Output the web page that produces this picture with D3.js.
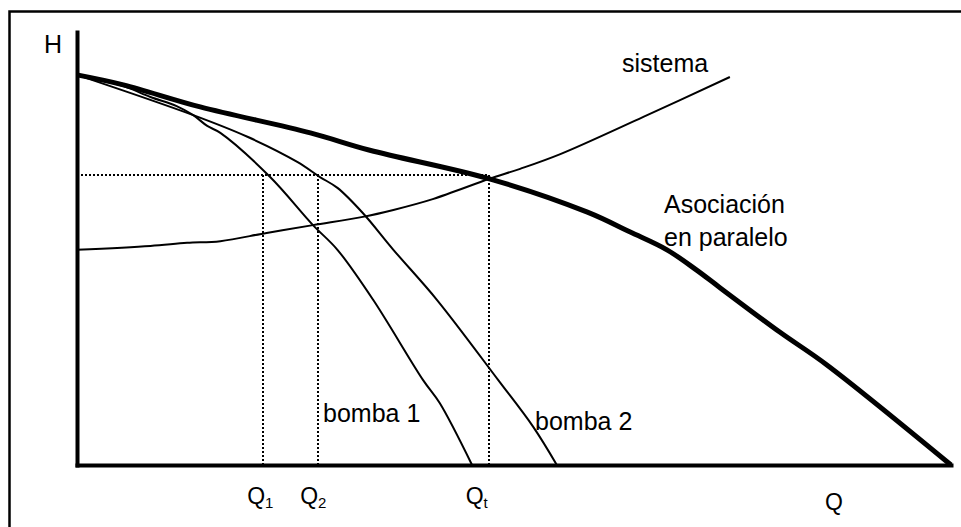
<!DOCTYPE html>
<html>
<head>
<meta charset="utf-8">
<script src="https://cdn.jsdelivr.net/npm/d3@7"></script>
<style>
  body { margin: 0; background: #fff; }
  svg { display: block; font-family: "Liberation Sans", Arial, sans-serif; }
</style>
</head>
<body>
<svg width="961" height="527"></svg>
<script>
// curve points, Q in % of axis, H in % of axis
const paraleloQ = [0, 5.3, 14.1, 26.7, 33.5, 47.2, 58.4, 63.3, 67.5, 70.9, 73.6, 80.4, 85.8, 100];
const paraleloH = [90.1, 87.8, 82.7, 76.7, 72.7, 66.1, 58.4, 53.8, 49.7, 45.0, 40.9, 30.7, 23.1, 0];

const sistemaQ = [0, 8.4, 12.6, 16.4, 21.7, 27.0, 32.7, 36.2, 40.7, 47.2, 50.7, 55.3, 64.8, 74.7];
const sistemaH = [49.7, 50.6, 51.3, 51.7, 53.6, 55.4, 57.3, 58.9, 61.4, 66.1, 68.4, 71.8, 80.4, 89.6];

const bomba1Q = [0, 5.3, 8.4, 11.4, 13.3, 14.9, 16.4, 22.1, 27.0, 29.8, 33.9, 39.6, 41.5, 45.2];
const bomba1H = [90.1, 87.5, 85.0, 82.9, 80.8, 78.3, 76.7, 66.5, 55.4, 49.7, 38.1, 19.6, 14.3, 0];

const bomba2Q = [0, 13.3, 19.5, 25.2, 27.8, 29.8, 32.7, 36.2, 41.2, 48.2, 52.2, 54.9];
const bomba2H = [90.1, 80.8, 75.8, 70.0, 66.5, 64.0, 58.2, 49.7, 38.1, 19.6, 8.8, 0];

// operating points
const opQ = [21.3, 27.6, 47.1];
const opH = 67.0;
const opLabels = ['1', '2', 't'];

const svg = d3.select('svg');

// frame
svg.append('path')
  .attr('d', 'M9.5,527V11.5H961')
  .attr('fill', 'none')
  .attr('stroke', '#000')
  .attr('stroke-width', 2.5);

const x = d3.scaleLinear().domain([0, 100]).range([77, 951]);
const y = d3.scaleLinear().domain([0, 100]).range([465, 32]);

const zip = (qs, hs) => qs.map((q, i) => [q, hs[i]]);
const line = d3.line()
  .x(d => x(d[0]))
  .y(d => y(d[1]))
  .curve(d3.curveCatmullRom.alpha(0.5));

// dotted guides, snapped to whole pixels so the dots stay crisp
const guides = svg.append('g')
  .attr('fill', 'none')
  .attr('stroke', '#000')
  .attr('stroke-width', 2)
  .attr('stroke-dasharray', '2,2');
guides.append('line')
  .attr('x1', x(0)).attr('x2', Math.round(x(opQ[2])))
  .attr('y1', Math.round(y(opH))).attr('y2', Math.round(y(opH)));
guides.selectAll('.v')
  .data(opQ)
  .enter().append('line')
  .attr('class', 'v')
  .attr('x1', d => Math.round(x(d))).attr('x2', d => Math.round(x(d)))
  .attr('y1', Math.round(y(opH))).attr('y2', y(0));

// curves
const curves = [
  { pts: zip(bomba1Q, bomba1H), w: 2 },
  { pts: zip(bomba2Q, bomba2H), w: 2 },
  { pts: zip(sistemaQ, sistemaH), w: 2 },
  { pts: zip(paraleloQ, paraleloH), w: 5 }
];
svg.append('g').selectAll('path')
  .data(curves)
  .enter().append('path')
  .attr('d', d => line(d.pts))
  .attr('fill', 'none')
  .attr('stroke', '#000')
  .attr('stroke-width', d => d.w)
  .attr('stroke-linejoin', 'round');

// axes
const xAxis = svg.append('g')
  .attr('transform', `translate(0,${y(0)})`)
  .call(d3.axisBottom(x).tickValues([]).tickSizeOuter(0));
const yAxis = svg.append('g')
  .attr('transform', `translate(${x(0)},0)`)
  .call(d3.axisLeft(y).tickValues([]).tickSizeOuter(0));
[xAxis, yAxis].forEach(a => a.select('.domain')
  .attr('stroke', '#000')
  .attr('stroke-width', 4)
  .attr('stroke-linecap', 'square'));

// labels
const labels = [
  { t: 'H', x: 44, y: 53 },
  { t: 'sistema', x: 622, y: 72 },
  { t: 'Asociación', x: 664, y: 213 },
  { t: 'en paralelo', x: 664, y: 246 },
  { t: 'bomba 1', x: 323, y: 422 },
  { t: 'bomba 2', x: 535, y: 430 }
];
svg.append('g').selectAll('text')
  .data(labels)
  .enter().append('text')
  .attr('x', d => d.x)
  .attr('y', d => d.y)
  .attr('font-size', 25)
  .attr('fill', '#000')
  .text(d => d.t);

const qOffsets = [-16, -18, -23];
const qt = svg.append('g').selectAll('text')
  .data(opQ)
  .enter().append('text')
  .attr('x', (d, i) => x(d) + qOffsets[i])
  .attr('y', 504)
  .attr('font-size', 23)
  .attr('fill', '#000');
qt.append('tspan').text('Q');
qt.append('tspan')
  .attr('font-size', 15)
  .attr('dy', 4)
  .text((d, i) => opLabels[i]);

svg.append('text')
  .attr('x', 825)
  .attr('y', 510)
  .attr('font-size', 23)
  .attr('fill', '#000')
  .text('Q');
</script>
</body>
</html>
